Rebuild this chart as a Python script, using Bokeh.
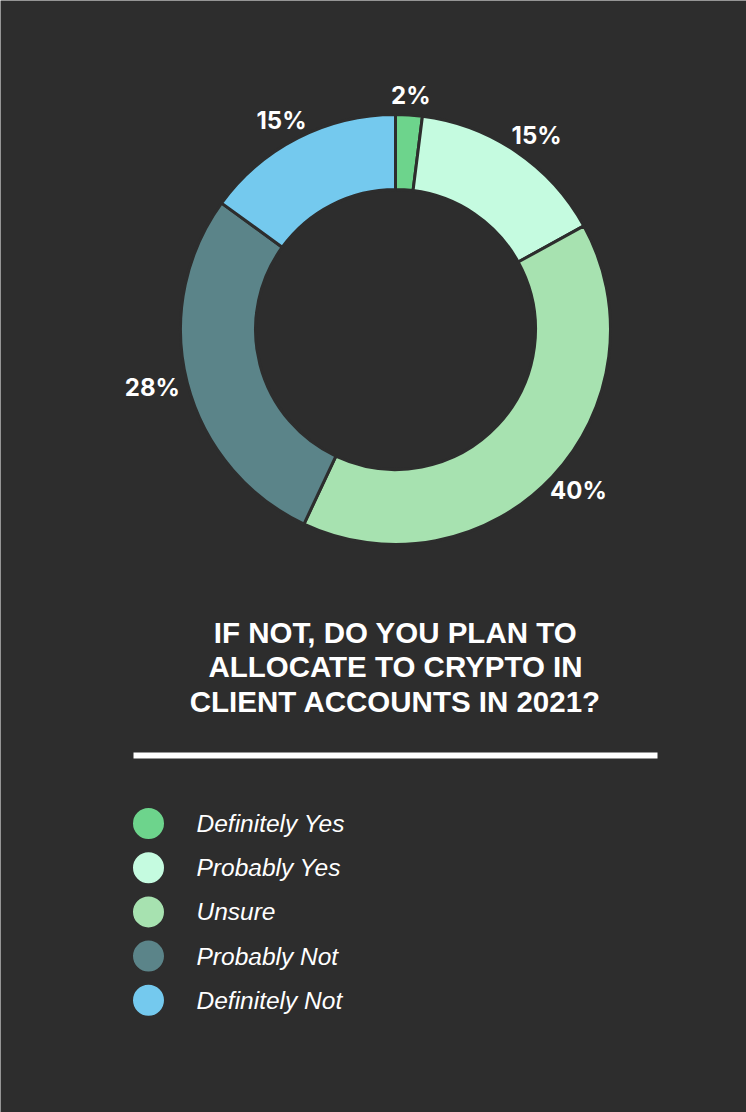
import numpy as np
from bokeh.plotting import figure
from bokeh.models import Range1d, ColumnDataSource
from bokeh.core.properties import value
from bokeh.embed import file_html
from bokeh.resources import INLINE

# ---- data ----
categories = ["Definitely Yes", "Probably Yes", "Unsure", "Probably Not", "Definitely Not"]
percents = [2, 15, 40, 28, 15]
colors = ["#6dd48c", "#c5fbe0", "#a7e2b0", "#5b8489", "#74c9ee"]
title_lines = ["IF NOT, DO YOU PLAN TO", "ALLOCATE TO CRYPTO IN", "CLIENT ACCOUNTS IN 2021?"]

W, H = 746, 1112
BG = "#2d2d2d"

def Y(py):
    return H - py

p = figure(width=W, height=H, x_range=Range1d(0, W), y_range=Range1d(0, H),
           output_backend="svg", toolbar_location=None,
           x_axis_type=None, y_axis_type=None, min_border=0)
p.background_fill_color = BG
p.border_fill_color = BG
p.outline_line_color = None
p.grid.visible = False

# ---- donut ----
cx, cy = 395, Y(329)
r_in, r_out = 140, 215
vals = np.array(percents, dtype=float)
frac = vals / vals.sum()
cum = np.concatenate([[0], np.cumsum(frac)])
start = np.pi / 2 - 2 * np.pi * cum[:-1]
end = np.pi / 2 - 2 * np.pi * cum[1:]
src = ColumnDataSource(dict(start=start, end=end, color=colors))
p.annular_wedge(x=cx, y=cy, inner_radius=r_in, outer_radius=r_out,
                start_angle="start", end_angle="end", direction="clock",
                fill_color="color", line_color=BG, line_width=3, source=src)

# ---- percent labels ----
mid = np.pi / 2 - 2 * np.pi * (cum[:-1] + frac / 2)
lx, ly, lt = [], [], []
for m, v in zip(mid, percents):
    t = f"{v}%"
    hw = (len(t) - 1) * 15.5 / 2 + 10.5
    hh = 9.5
    d = r_out + 10
    lx.append(cx + d * np.cos(m) + np.cos(m) * hw)
    ly.append(cy + d * np.sin(m) + np.sin(m) * hh)
    lt.append(t)
p.text(x=lx, y=ly, text=lt, text_color="white", text_font=value("Inter"),
       text_font_style="bold", text_font_size="24px", text_align="center",
       text_baseline="middle")

# ---- title ----
title_mid = [632, 665.5, 701]
p.text(x=[395] * 3, y=[Y(b) for b in title_mid], text=title_lines,
       text_color="white", text_font=value("Liberation Sans"),
       text_font_style="bold", text_font_size="29.5px", text_align="center",
       text_baseline="middle")

# ---- rule ----
p.segment(x0=[133], y0=[Y(755)], x1=[657], y1=[Y(755)], line_color="white",
          line_width=6)

# ---- legend ----
ly0 = [823 + 44.2 * i for i in range(len(categories))]
p.scatter(x=[148] * len(categories), y=[Y(v) for v in ly0], marker="circle",
          size=31, fill_color=colors, line_color=None)
p.text(x=[196] * len(categories), y=[Y(v) for v in ly0], text=categories,
       text_color="white", text_font=value("Liberation Sans"),
       text_font_style="italic", text_font_size="24.5px", text_align="left",
       text_baseline="middle")

open("out.html", "w").write(file_html(p, INLINE))
